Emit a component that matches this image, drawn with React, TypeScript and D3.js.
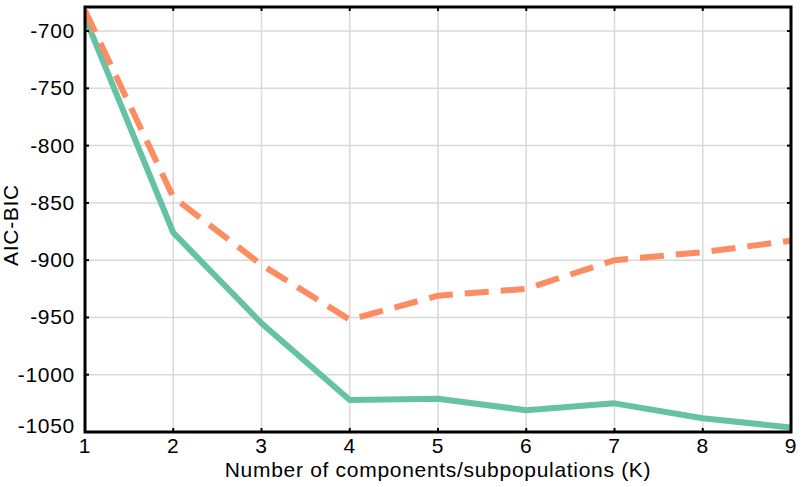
import React from "react";
import * as d3 from "d3";

const ks = [1, 2, 3, 4, 5, 6, 7, 8, 9];
const solidSeries = [-688, -876, -955, -1022, -1021, -1031, -1025, -1038, -1046];
const dashedSeries = [-682, -845, -904, -952, -931, -925, -900, -893, -883];
const yTicks = [-1050, -1000, -950, -900, -850, -800, -750, -700];
const xTicks = [1, 2, 3, 4, 5, 6, 7, 8, 9];

const W = 806;
const H = 487;
const m = { left: 85, right: 15, top: 7, bottom: 55 };

export default function App() {
  const x = d3.scaleLinear().domain([1, 9]).range([m.left, W - m.right]);
  const y = d3.scaleLinear().domain([-1050, -679]).range([H - m.bottom, m.top]);
  const line = d3
    .line<number>()
    .x((_, i) => x(ks[i]))
    .y((d) => y(d));
  const font = "'Liberation Sans', Arial, Helvetica, sans-serif";
  const fs = 21;
  const ls = 0.7;
  const x0 = x.range()[0], x1 = x.range()[1];
  const y0 = y.range()[0], y1 = y.range()[1];
  return (
    <svg width={W} height={H} style={{ position: "absolute", left: 0, top: 0, background: "#fff" }}>
      <defs>
        <clipPath id="plot">
          <rect x={x0} y={y1} width={x1 - x0} height={y0 - y1} />
        </clipPath>
      </defs>
      {xTicks.map((t) => (
        <line key={"gx" + t} x1={x(t)} x2={x(t)} y1={y1} y2={y0} stroke="#d9d9d9" strokeWidth={1.5} />
      ))}
      {yTicks.map((t) => (
        <line key={"gy" + t} x1={x0} x2={x1} y1={y(t)} y2={y(t)} stroke="#d9d9d9" strokeWidth={1.5} />
      ))}
      <g clipPath="url(#plot)">
        <path d={line(solidSeries) || ""} fill="none" stroke="#66c2a5" strokeWidth={6} strokeLinejoin="round" />
        <path d={line(dashedSeries) || ""} fill="none" stroke="#fc8d62" strokeWidth={6} strokeDasharray="24,12" />
      </g>
      {xTicks.map((t) => (
        <g key={"tx" + t}>
          <line x1={x(t)} x2={x(t)} y1={y0} y2={y0 - 4} stroke="#000" strokeWidth={2} />
          <line x1={x(t)} x2={x(t)} y1={y1} y2={y1 + 4} stroke="#000" strokeWidth={2} />
          <text x={x(t)} y={y0 + 21} textAnchor="middle" fontFamily={font} fontSize={fs} letterSpacing={ls}>{t}</text>
        </g>
      ))}
      {yTicks.map((t) => (
        <g key={"ty" + t}>
          <line x1={x0} x2={x0 + 4} y1={y(t)} y2={y(t)} stroke="#000" strokeWidth={2} />
          <line x1={x1} x2={x1 - 4} y1={y(t)} y2={y(t)} stroke="#000" strokeWidth={2} />
          <text x={x0 - 10} y={y(t) + (t === -1050 ? 1 : 7)} textAnchor="end" fontFamily={font} fontSize={fs} letterSpacing={ls}>{t}</text>
        </g>
      ))}
      <rect x={x0} y={y1} width={x1 - x0} height={y0 - y1} fill="none" stroke="#000" strokeWidth={3} />
      <text x={(x0 + x1) / 2} y={477} textAnchor="middle" fontFamily={font} fontSize={fs} letterSpacing={ls}>
        Number of components/subpopulations (K)
      </text>
      <text transform={`translate(18, 225) rotate(-90)`} textAnchor="middle" fontFamily={font} fontSize={fs} letterSpacing={ls}>
        AIC-BIC
      </text>
    </svg>
  );
}
